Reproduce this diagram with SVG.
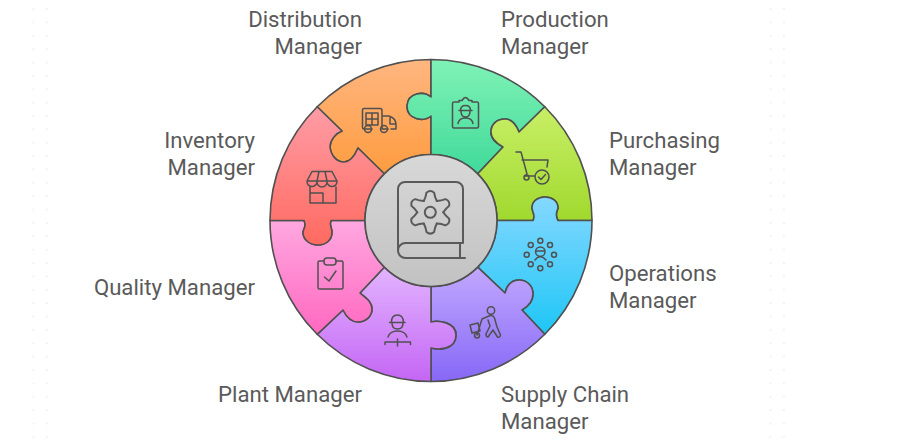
<svg xmlns="http://www.w3.org/2000/svg" xmlns:xlink="http://www.w3.org/1999/xlink" width="900" height="444" viewBox="0 0 900 444">
<style>
.piece{stroke:#505050;stroke-width:1.6;stroke-linejoin:round}
.icon{fill:none;stroke:#505050;stroke-width:1.5;stroke-linecap:round;stroke-linejoin:round}
.book{fill:none;stroke:#5a5a5a;stroke-width:2;stroke-linecap:round;stroke-linejoin:round}
.label{font-family:Roboto,"Liberation Sans",sans-serif;font-size:22.2px;fill:#5a5a5a}
.end{text-anchor:end}
</style>
<defs>
<pattern id="dots" patternUnits="userSpaceOnUse" x="0" y="2.3" width="13.4" height="13.37"><circle cx="6.7" cy="6.7" r="0.8" fill="#e4e4e4"/></pattern>
<linearGradient id="gDist" x1="0" y1="0" x2="0" y2="1"><stop offset="0" stop-color="#ffb680"/><stop offset="1" stop-color="#ff9c40"/></linearGradient>
<linearGradient id="gProd" x1="0" y1="0" x2="0" y2="1"><stop offset="0" stop-color="#80f2b6"/><stop offset="1" stop-color="#40da9a"/></linearGradient>
<linearGradient id="gPurch" x1="0" y1="0" x2="0" y2="1"><stop offset="0" stop-color="#c8ef66"/><stop offset="1" stop-color="#a0d92e"/></linearGradient>
<linearGradient id="gOps" x1="0" y1="0" x2="0" y2="1"><stop offset="0" stop-color="#85d8ff"/><stop offset="1" stop-color="#1ec6f6"/></linearGradient>
<linearGradient id="gSup" x1="0" y1="0" x2="0" y2="1"><stop offset="0" stop-color="#c2a8ff"/><stop offset="1" stop-color="#8668f6"/></linearGradient>
<linearGradient id="gPlant" x1="0" y1="0" x2="0" y2="1"><stop offset="0" stop-color="#e2b4ff"/><stop offset="1" stop-color="#c466f4"/></linearGradient>
<linearGradient id="gQual" x1="0" y1="0" x2="0" y2="1"><stop offset="0" stop-color="#ffa8e0"/><stop offset="1" stop-color="#ff68c0"/></linearGradient>
<linearGradient id="gInv" x1="0" y1="0" x2="0" y2="1"><stop offset="0" stop-color="#ff9ca6"/><stop offset="1" stop-color="#ff6a60"/></linearGradient>
<linearGradient id="gHub" x1="0" y1="0" x2="0" y2="1"><stop offset="0" stop-color="#d8d8d8"/><stop offset="1" stop-color="#c2c2c2"/></linearGradient>
<path id="lobe" d="M-6.5,-11.26 Q-4.41,-15.38 -3.82,-19.63 Q0,-23 3.82,-19.63 Q4.41,-15.38 6.5,-11.26"/>
</defs>
<rect x="29" y="2.3" width="27" height="441.7" fill="url(#dots)"/>
<rect x="767.5" y="2.3" width="27" height="441.7" fill="url(#dots)"/>

<g id="node-distribution">
<path class="piece" fill="url(#gDist)" d="M317.2,106.7 A161,161 0 0 1 431,59.5 L431,97 C424,91 408,92 407,106 C407,120 424,122 431,116 L431,154.5 A66,66 0 0 0 384.3,173.8 L358,148 C355,155 351,162 344,162 C337,162 331,156 330,147 C330,140 336,133 342,131 Z"/>
<path class="icon" d="M364,108.5 H380 Q382,108.5 382,110.5 V129 H388 M372,129 H364 Q362.5,129 362.5,127.5 V110 Q362.5,108.5 364,108.5 M366,125 V113 H378 V125 H366 M366,119 H378 M372,113 V125 M382,116 H389 Q396,118 396,125 V129 H391 M390,118 V124 H396"/>
<circle class="icon" cx="368" cy="129" r="3.5"/><circle class="icon" cx="384" cy="129" r="3.5"/>
<text class="label end" x="362" y="27">Distribution</text><text class="label end" x="362" y="54">Manager</text>
</g>

<g id="node-production">
<path class="piece" fill="url(#gProd)" d="M431,59.5 A161,161 0 0 1 544.8,106.7 L519,132 C515,122 510,119 505,119 C496,119 491,125 491,132 C491,139 496,143 503,147 L477.7,173.8 A66,66 0 0 0 431,154.5 L431,116 C424,122 407,120 407,106 C408,92 424,91 431,97 Z"/>
<path class="icon" d="M459,102 H454 Q452.5,102 452.5,103.5 V126.5 Q452.5,128 454,128 H477 Q478.5,128 478.5,126.5 V103.5 Q478.5,102 477,102 H472 M459,102 V100.5 H462 Q465.5,94.5 469,100.5 H472 V102 M459,110.5 H472 M460.5,110.5 Q460.5,105.5 465.5,105.5 Q470.5,105.5 470.5,110.5 M461,111 Q461,117 465.5,117 Q470,117 470,111 M458,123.5 Q459,118 465.5,118 Q472,118 473,123.5"/>
<text class="label" x="501" y="27">Production</text><text class="label" x="501" y="54">Manager</text>
</g>

<g id="node-purchasing">
<path class="piece" fill="url(#gPurch)" d="M544.8,106.7 A161,161 0 0 1 592,220.5 L558,220.5 C554,213 558,210 558,208 C558,201 552,197 545,197 C538,197 532,201 532,208 C532,212 536,215 533,220.5 L497,220.5 A66,66 0 0 0 477.7,173.8 L503,147 C496,143 491,139 491,132 C491,125 496,119 505,119 C510,119 515,122 519,132 Z"/>
<path class="icon" d="M516,152 H521 L527,174 M522,160 H548 L547,167 M527,174 L525,176 H535"/>
<circle class="icon" cx="526.5" cy="177.5" r="2.5"/><circle class="icon" cx="542" cy="177" r="7"/>
<path class="icon" d="M538.5,177 L541,179.5 L545.5,174.5"/>
<text class="label" x="609" y="148">Purchasing</text><text class="label" x="609" y="175">Manager</text>
</g>

<g id="node-operations">
<path class="piece" fill="url(#gOps)" d="M592,220.5 A161,161 0 0 1 544.8,334.3 L522,310 C529,306 533,301 533,294 C533,286 527,280 519,280 C511,280 507,285 505,293 L477.7,267.2 A66,66 0 0 0 497,220.5 L533,220.5 C536,215 532,212 532,208 C532,201 538,197 545,197 C552,197 558,201 558,208 C558,210 554,213 558,220.5 Z"/>
<g class="icon"><circle cx="540.3" cy="240.7" r="2.5"/><circle cx="550" cy="245" r="2.5"/><circle cx="554" cy="254.7" r="2.5"/><circle cx="550" cy="264.3" r="2.5"/><circle cx="540.3" cy="268.3" r="2.5"/><circle cx="530.7" cy="264.3" r="2.5"/><circle cx="526.7" cy="254.7" r="2.5"/><circle cx="530.7" cy="245" r="2.5"/><circle cx="540.3" cy="251.7" r="4.7"/><path d="M536,251 H544.5 M535,260 Q537,257 540.3,256.5 Q543.5,257 546,260"/></g>
<text class="label" x="609" y="281">Operations</text><text class="label" x="609" y="308">Manager</text>
</g>

<g id="node-supply-chain">
<path class="piece" fill="url(#gSup)" d="M544.8,334.3 A161,161 0 0 1 431,381.5 L431,348 C438,350 456,350 456,335 C456,322 438,320 431,322 L431,286.5 A66,66 0 0 0 477.7,267.2 L505,293 C507,285 511,280 519,280 C527,280 533,286 533,294 C533,301 529,306 522,310 Z"/>
<g class="icon"><circle cx="491" cy="310.5" r="3.7"/><path d="M482,319 L489,316 Q493,314.5 494.5,318 L497,327 L500.5,335 Q500,338 497.5,337 L493,330 L488,337 Q486,337 486,334 L490,326 L488,320 M482,319 L477,335 M470,325 L478,323 L480,331 L472,333 Z"/><circle cx="477" cy="335.5" r="2.5"/></g>
<text class="label" x="501" y="402">Supply Chain</text><text class="label" x="501" y="429">Manager</text>
</g>

<g id="node-plant">
<path class="piece" fill="url(#gPlant)" d="M431,381.5 A161,161 0 0 1 317.2,334.3 L343,310 C347,318 352,322 358,322 C366,322 372,316 372,309 C372,302 366,298 360,293 L384.3,267.2 A66,66 0 0 0 431,286.5 L431,322 C438,320 456,322 456,335 C456,350 438,350 431,348 Z"/>
<g class="icon"><path d="M391.5,322 Q391.5,315 397.5,315 Q403,315 403.5,322 M389.5,322.5 H405 M392,323 Q392,329 397.5,329 Q403,329 403,323 M388,337 Q390,331 397.5,331 Q405,331 407,337 M385,344.5 V342 H410.5 V344.5 M397.5,339 V346"/></g>
<text class="label end" x="362" y="402">Plant Manager</text>
</g>

<g id="node-quality">
<path class="piece" fill="url(#gQual)" d="M317.2,334.3 A161,161 0 0 1 270,220.5 L304,220.5 C307,226 303,230 303,232 C303,240 310,245 318,245 C326,245 332,240 332,232 C332,228 329,225 331,220.5 L365,220.5 A66,66 0 0 0 384.3,267.2 L360,293 C366,298 372,302 372,309 C372,316 366,322 358,322 C352,322 347,318 343,310 Z"/>
<g class="icon"><path d="M324,261 H319.5 Q318,261 318,262.5 V287.5 Q318,289 319.5,289 H341.5 Q343,289 343,287.5 V262.5 Q343,261 341.5,261 H336"/><rect x="324" y="258" width="12" height="7" rx="3"/><path d="M324.5,277 L329,281 L336,271"/></g>
<text class="label end" x="255" y="295">Quality Manager</text>
</g>

<g id="node-inventory">
<path class="piece" fill="url(#gInv)" d="M270,220.5 A161,161 0 0 1 317.2,106.7 L342,131 C336,133 330,140 330,147 C331,156 337,162 344,162 C351,162 355,155 358,148 L384.3,173.8 A66,66 0 0 0 365,220.5 L331,220.5 C329,225 332,228 332,232 C332,240 326,245 318,245 C310,245 303,240 303,232 C303,230 307,226 304,220.5 Z"/>
<path class="icon" d="M312,171.5 H332 L337,181 A5,5 0 0 1 327,182 A5,5 0 0 1 317,182 A5,5 0 0 1 307,181 Z M307,181 H337 M317,181 L319,171.5 M327,181 L325,171.5 M310,187 V203 H336 V187 M310,193 H323 V203"/>
<text class="label end" x="255" y="148">Inventory</text><text class="label end" x="255" y="175">Manager</text>
</g>

<g id="node-center">
<circle cx="431" cy="220.5" r="66" fill="url(#gHub)" stroke="#505050" stroke-width="1.6"/>
<path class="book" d="M398,250.5 V189 A7,7 0 0 1 405,182 H456 A7,7 0 0 1 463,189 V243 H406 A7.5,7.5 0 0 0 398,250.5 A7.5,7.5 0 0 0 406,258 H465 M460,243 V258"/>
<g class="book" transform="translate(430.3,212.3)">
<use xlink:href="#lobe"/><use xlink:href="#lobe" transform="rotate(60)"/><use xlink:href="#lobe" transform="rotate(120)"/><use xlink:href="#lobe" transform="rotate(180)"/><use xlink:href="#lobe" transform="rotate(240)"/><use xlink:href="#lobe" transform="rotate(300)"/>
<circle r="5.5"/>
</g>
</g>
</svg>
